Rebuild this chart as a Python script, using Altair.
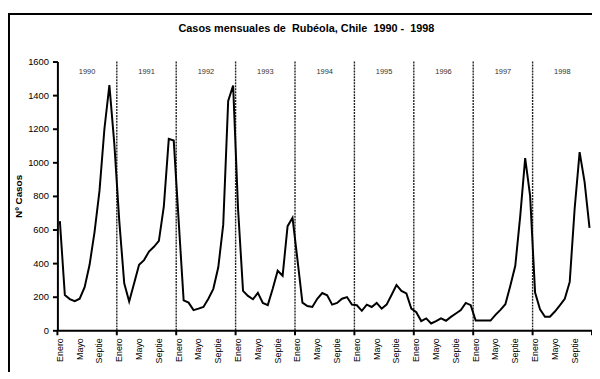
import altair as alt
import pandas as pd

years = ["1990", "1991", "1992", "1993", "1994", "1995", "1996", "1997", "1998"]
cases_1990 = [650, 210, 186, 174, 188, 257, 390, 585, 830, 1200, 1460, 1110]
cases_1991 = [650, 280, 172, 280, 390, 418, 469, 497, 532, 737, 1140, 1130]
cases_1992 = [650, 178, 165, 120, 129, 139, 188, 247, 375, 629, 1365, 1457]
cases_1993 = [720, 235, 205, 185, 223, 163, 150, 247, 355, 325, 620, 670]
cases_1994 = [420, 165, 145, 139, 188, 222, 208, 153, 163, 188, 198, 153]
cases_1995 = [149, 116, 153, 139, 163, 129, 153, 210, 270, 235, 220, 129]
cases_1996 = [108, 55, 71, 41, 55, 71, 57, 80, 100, 120, 163, 150]
cases_1997 = [58, 58, 58, 58, 92, 122, 155, 265, 384, 680, 1025, 800]
cases_1998 = [225, 125, 81, 81, 112, 148, 188, 288, 727, 1061, 884, 610]
month_labels = ["Enero", "Mayo", "Septie"]  # shown every 4th month
y_ticks = [0, 200, 400, 600, 800, 1000, 1200, 1400, 1600]
title_text = "Casos mensuales de\u00a0 Rubéola, Chile\u00a0 1990 -\u00a0 1998"
y_title = "Nº Casos"

all_cases = (cases_1990 + cases_1991 + cases_1992 + cases_1993 + cases_1994
             + cases_1995 + cases_1996 + cases_1997 + cases_1998)
n = len(all_cases)
df = pd.DataFrame({"m": [i + 0.5 for i in range(n)], "v": all_cases})
lab_df = pd.DataFrame({
    "m": [i + 0.5 for i in range(0, n, 4)],
    "lab": [month_labels[(i // 4) % 3] for i in range(0, n, 4)],
})
bounds_inner = pd.DataFrame({"b": [12 * k for k in range(1, len(years))]})
bounds_all = pd.DataFrame({"b": [12 * k for k in range(len(years) + 1)]})
year_df = pd.DataFrame({"yr": years, "c": [12 * k + 6 for k in range(len(years))]})

W, H = 541, 272
FONT = "Liberation Sans, Arial, sans-serif"
xscale = alt.Scale(domain=[0, n], nice=False, zero=False)

border = alt.Chart(pd.DataFrame({"a": [0]})).mark_rect(
    fill="transparent", stroke="black", strokeWidth=2
).encode(x=alt.value(-49), y=alt.value(-48), x2=alt.value(700), y2=alt.value(500))

title = alt.Chart(pd.DataFrame({"t": [title_text]})).mark_text(
    font=FONT, fontSize=11, fontWeight="bold", color="black", baseline="middle"
).encode(x=alt.value(252), y=alt.value(-33), text="t:N")

dashes = alt.Chart(bounds_inner).mark_rule(
    strokeDash=[2, 1], color="#222", strokeWidth=1.4
).encode(x=alt.X("b:Q", scale=xscale))

ticks = alt.Chart(bounds_all).mark_rule(color="black", strokeWidth=2).encode(
    x=alt.X("b:Q", scale=xscale), y=alt.value(H), y2=alt.value(H + 5)
)

yr = alt.Chart(year_df).mark_text(
    font=FONT, fontSize=7.5, color="#333", baseline="middle"
).encode(x=alt.X("c:Q", scale=xscale), y=alt.value(11), text="yr:N")

mlabels = alt.Chart(lab_df).mark_text(
    font=FONT, fontSize=9, color="black", angle=270, align="right", baseline="middle"
).encode(x=alt.X("m:Q", scale=xscale), y=alt.value(H + 8), text="lab:N")

line = alt.Chart(df).mark_line(color="black", strokeWidth=2).encode(
    x=alt.X("m:Q", scale=xscale, axis=alt.Axis(
        labels=False, ticks=False, domainColor="black", domainWidth=2,
        grid=False, title=None)),
    y=alt.Y("v:Q", scale=alt.Scale(domain=[0, 1600], nice=False), axis=alt.Axis(
        values=y_ticks, format="d", tickSize=5, tickWidth=2, tickColor="black",
        labelPadding=4, labelFontSize=9.5, labelFont=FONT, labelColor="black",
        domainColor="black", domainWidth=2, grid=False, title=y_title,
        titleFont=FONT, titleFontSize=10, titleFontWeight="bold",
        titleColor="black", titlePadding=4)),
)

chart = alt.layer(border, dashes, ticks, line, yr, mlabels, title).properties(
    width=W, height=H, autosize=alt.AutoSizeParams(type="none"),
    padding={"left": 50, "top": 52, "right": 0, "bottom": 40},
    background="white",
).configure_view(stroke=None)

chart.save("out.html", embed_options={"renderer": "svg", "actions": False})
